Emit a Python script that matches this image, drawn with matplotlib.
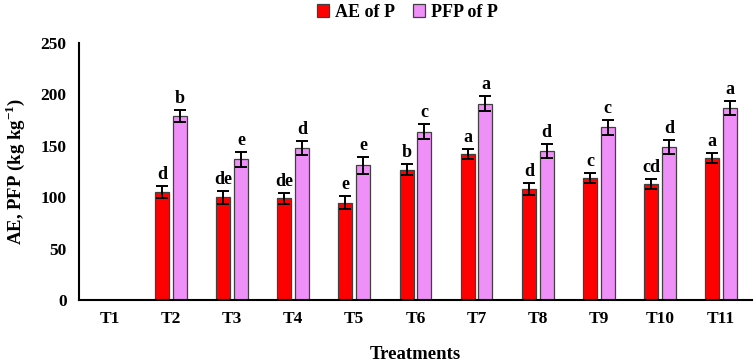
import matplotlib
matplotlib.use("Agg")
import matplotlib.pyplot as plt
import numpy as np

treatments = ["T1", "T2", "T3", "T4", "T5", "T6", "T7", "T8", "T9", "T10", "T11"]
ae_values = [0, 105, 100, 99, 95, 127, 142, 108, 119, 113, 138]
ae_errors = [0, 6, 6, 5, 6, 5, 5, 6, 5, 5, 5]
ae_letters = ["", "d", "de", "de", "e", "b", "a", "d", "c", "cd", "a"]
pfp_values = [0, 179, 137, 148, 131, 164, 191, 145, 168, 149, 187]
pfp_errors = [0, 6, 7, 7, 8, 7, 7, 7, 7, 7, 7]
pfp_letters = ["", "b", "e", "d", "e", "c", "a", "d", "c", "d", "a"]
yticks = [0, 50, 100, 150, 200, 250]

plt.rcParams['font.family'] = ['Liberation Serif', 'DejaVu Serif']
plt.rcParams['font.weight'] = 'bold'
plt.rcParams['mathtext.fontset'] = 'custom'
plt.rcParams['mathtext.rm'] = 'Liberation Serif:bold'
plt.rcParams['mathtext.bf'] = 'Liberation Serif:bold'

fig = plt.figure(figsize=(7.54, 3.61), dpi=100)
ax = fig.add_axes([0.105, 0.168, 0.892, 0.713])

x = np.arange(len(treatments))
w = 0.23
off = 0.145
red = '#FF0000'
violet = '#EE90F7'
edge = '#404040'

b1 = ax.bar(x - off, ae_values, w, color=red, edgecolor=edge, linewidth=0.9, label='AE of P')
b2 = ax.bar(x + off, pfp_values, w, color=violet, edgecolor=edge, linewidth=0.9, label='PFP of P')

mask = np.array(ae_values) > 0
ax.errorbar((x - off)[mask], np.array(ae_values)[mask], yerr=np.array(ae_errors)[mask],
            fmt='none', ecolor='black', elinewidth=1.4, capsize=4, capthick=1.4)
ax.errorbar((x + off)[mask], np.array(pfp_values)[mask], yerr=np.array(pfp_errors)[mask],
            fmt='none', ecolor='black', elinewidth=1.4, capsize=4, capthick=1.4)

for i in range(len(treatments)):
    if ae_letters[i]:
        ax.text(x[i] - off, ae_values[i] + ae_errors[i] + 3, ae_letters[i],
                ha='center', va='bottom', fontsize=13, fontweight='bold')
    if pfp_letters[i]:
        ax.text(x[i] + off, pfp_values[i] + pfp_errors[i] + 3, pfp_letters[i],
                ha='center', va='bottom', fontsize=13, fontweight='bold')

ax.set_xlim(-0.5, len(treatments) - 0.5)
ax.set_ylim(0, 250)
ax.set_yticks(yticks)
ax.set_xticks(x)
ax.set_xticklabels(treatments)
ax.tick_params(axis='both', length=0, labelsize=12.5)
for lab in ax.get_xticklabels() + ax.get_yticklabels():
    lab.set_fontweight('bold')
ax.tick_params(axis='y', pad=9)
ax.tick_params(axis='x', pad=8)

for s in ['top', 'right']:
    ax.spines[s].set_visible(False)
ax.spines['left'].set_linewidth(1.5)
ax.spines['bottom'].set_linewidth(1.5)

ax.set_ylabel('AE, PFP (kg kg$^{-1}$)', fontsize=13.5, fontweight='bold', labelpad=10)
ax.set_xlabel('Treatments', fontsize=13.5, fontweight='bold', labelpad=13)

fig.legend(handles=[b1, b2], loc='center', bbox_to_anchor=(0.54, 0.965), ncol=2,
           frameon=False, handlelength=0.7, handleheight=0.7,
           handletextpad=0.3, columnspacing=1.0, prop={'weight': 'bold', 'size': 13})

fig.savefig('out.png', dpi=100)
